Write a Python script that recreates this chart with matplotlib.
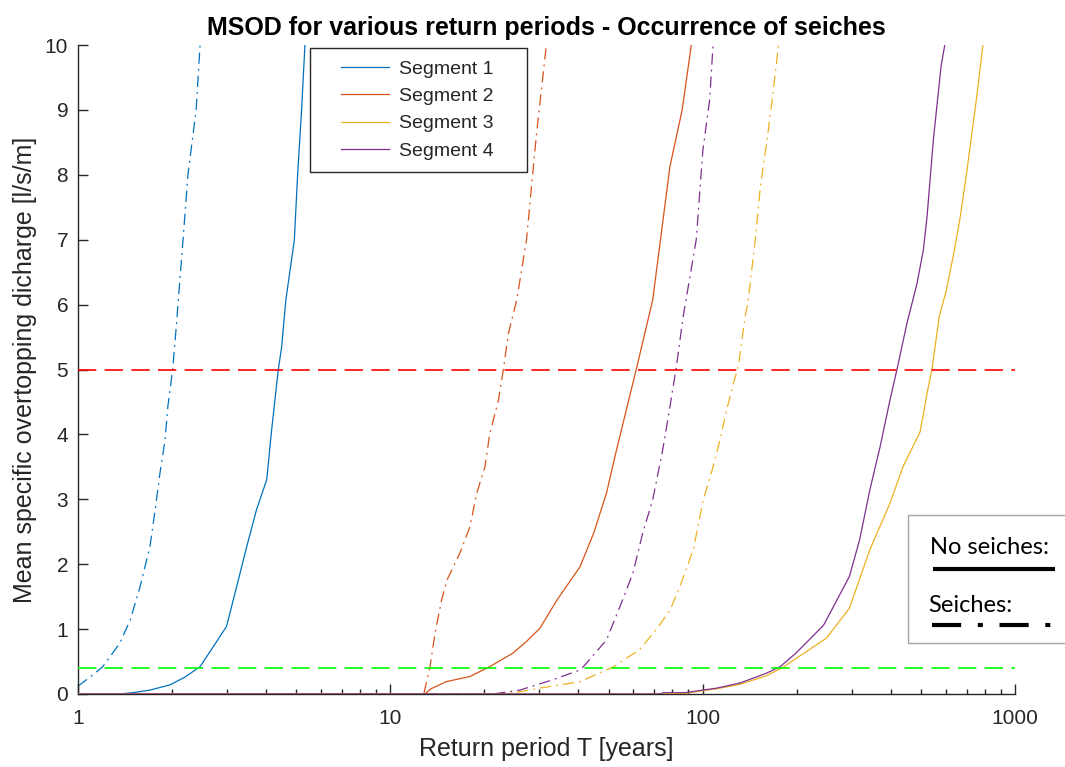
import matplotlib

matplotlib.use("Agg")
import matplotlib.pyplot as plt
from matplotlib.legend_handler import HandlerLine2D
from matplotlib.lines import Line2D
from matplotlib.patches import Rectangle
from matplotlib.ticker import FixedLocator, LogLocator, NullFormatter

plt.rcParams["font.family"] = ["Liberation Sans", "DejaVu Sans"]

# Return period T [years] vs mean specific overtopping discharge [l/s/m]
# --- without seiches ---
seg1_T = [1.0, 1.35, 1.5, 1.7, 1.97, 2.2, 2.46, 2.99, 3.22, 3.47, 3.73, 4.02, 4.17,
          4.38, 4.49, 4.63, 4.93, 5.05, 5.2, 5.33]
seg1_Q = [0.0, 0.0, 0.02, 0.06, 0.14, 0.26, 0.42, 1.04, 1.65, 2.27, 2.84, 3.3, 4.07,
          5.0, 5.35, 6.07, 7.0, 8.0, 9.0, 10.0]

seg2_T = [1.0, 12.9, 13.5, 15.1, 18.0, 20.8, 24.7, 27.3, 30.1, 34.2, 40.5, 44.8, 49.2,
          53.0, 57.0, 61.3, 69.2, 78.6, 86.0, 92.0]
seg2_Q = [0.0, 0.0, 0.08, 0.19, 0.27, 0.42, 0.63, 0.81, 1.01, 1.45, 1.96, 2.48, 3.09,
          3.76, 4.38, 5.0, 6.07, 8.13, 9.0, 10.0]

seg3_T = [1.0, 73.0, 88.0, 100.0, 111.0, 132.0, 160.0, 182.0, 249.0, 295.0, 343.0,
          398.0, 438.0, 497.0, 523.0, 543.0, 572.0, 603.0, 640.0, 668.0, 699.0,
          752.0, 790.0]
seg3_Q = [0.0, 0.0, 0.01, 0.05, 0.08, 0.15, 0.28, 0.42, 0.86, 1.32, 2.22, 2.94, 3.5,
          4.04, 4.63, 5.02, 5.81, 6.22, 6.84, 7.35, 8.0, 9.15, 10.0]

seg4_T = [1.0, 73.0, 75.0, 88.0, 100.0, 111.0, 132.0, 160.0, 177.0, 199.0, 244.0,
          295.0, 318.0, 343.0, 370.0, 398.0, 419.0, 451.0, 486.0, 509.0, 523.0,
          548.0, 580.0, 596.0]
seg4_Q = [0.0, 0.0, 0.02, 0.02, 0.06, 0.09, 0.17, 0.32, 0.42, 0.63, 1.06, 1.81, 2.37,
          3.14, 3.81, 4.53, 5.0, 5.71, 6.33, 6.84, 7.35, 8.54, 9.67, 10.0]

# --- with seiches ---
seg1s_T = [1.0, 1.1, 1.2, 1.36, 1.47, 1.58, 1.70, 1.76, 1.83, 1.90, 1.94, 2.01, 2.06,
           2.12, 2.17, 2.25, 2.39, 2.46]
seg1s_Q = [0.12, 0.27, 0.42, 0.78, 1.14, 1.65, 2.27, 2.78, 3.4, 3.91, 4.43, 5.0, 5.61,
           6.38, 7.0, 8.0, 9.0, 10.0]

seg2s_T = [1.0, 12.8, 13.4, 13.9, 14.6, 15.2, 16.7, 18.0, 18.9, 20.1, 20.8, 22.2, 23.0,
           23.9, 25.4, 27.3, 29.4, 31.6]
seg2s_Q = [0.0, 0.0, 0.42, 0.93, 1.45, 1.76, 2.17, 2.58, 3.09, 3.5, 4.0, 4.53, 4.99,
           5.56, 6.07, 7.0, 8.64, 10.0]

seg3s_T = [1.0, 21.9, 25.0, 30.1, 40.5, 51.9, 62.7, 71.0, 78.6, 84.5, 93.3, 100.5,
           108.0, 113.6, 119.4, 125.5, 130.0, 136.8, 140.0, 147.4, 153.1, 160.8,
           167.0, 175.0]
seg3s_Q = [0.0, 0.0, 0.02, 0.09, 0.19, 0.42, 0.68, 0.99, 1.29, 1.65, 2.22, 2.99, 3.5,
           3.91, 4.38, 4.79, 5.04, 5.81, 6.07, 7.0, 7.82, 8.54, 9.15, 10.0]

seg4s_T = [1.0, 21.3, 26.0, 33.2, 40.5, 41.5, 49.2, 54.3, 59.8, 64.3, 69.2, 74.5, 78.6,
           82.4, 86.6, 95.4, 100.2, 105.3, 108.0]
seg4s_Q = [0.0, 0.0, 0.06, 0.22, 0.37, 0.42, 0.83, 1.34, 1.86, 2.48, 2.99, 3.76, 4.43,
           5.04, 5.81, 7.0, 8.38, 9.15, 10.0]

segment_names = ["Segment 1", "Segment 2", "Segment 3", "Segment 4"]
segment_colors = ["#0072BD", "#D95319", "#EDB120", "#7E2F8E"]

limit_high = 5.0
limit_low = 0.4

x_ticks = [1, 10, 100, 1000]
x_tick_labels = ["1", "10", "100", "1000"]
y_ticks = list(range(0, 11))

axis_color = "#262626"

figure = plt.figure(figsize=(10.65, 7.67), dpi=100)
axis = figure.add_axes([0.0732, 0.0952, 0.8798, 0.8461])

seiches = [(seg1s_T, seg1s_Q), (seg2s_T, seg2s_Q), (seg3s_T, seg3s_Q), (seg4s_T, seg4s_Q)]
no_seiches = [(seg1_T, seg1_Q), (seg2_T, seg2_Q), (seg3_T, seg3_Q), (seg4_T, seg4_Q)]

for (t_values, q_values), color in zip(seiches, segment_colors):
    axis.plot(t_values, q_values, color=color, linewidth=0.9,
              dashes=(9, 4, 1.5, 4), zorder=2)

handles = []
for (t_values, q_values), color, name in zip(no_seiches, segment_colors, segment_names):
    line, = axis.plot(t_values, q_values, color=color, linewidth=0.9, label=name, zorder=3)
    handles.append(line)

axis.axhline(limit_high, color="#FF0000", linewidth=1.2, dashes=(11, 5), zorder=4)
axis.axhline(limit_low, color="#00FF00", linewidth=1.2, dashes=(11, 5), zorder=4)

axis.set_xscale("log")
axis.set_xlim(1, 1000)
axis.set_ylim(0, 10)
axis.xaxis.set_major_locator(FixedLocator(x_ticks))
axis.set_xticklabels(x_tick_labels)
axis.xaxis.set_minor_locator(LogLocator(base=10, subs=range(2, 10)))
axis.xaxis.set_minor_formatter(NullFormatter())
axis.set_yticks(y_ticks)

for side in ("top", "right"):
    axis.spines[side].set_visible(False)
for side in ("left", "bottom"):
    axis.spines[side].set_color(axis_color)
    axis.spines[side].set_linewidth(1.0)

axis.tick_params(axis="both", which="major", direction="in", length=7, width=1.0,
                 colors=axis_color, labelsize=15)
axis.tick_params(axis="x", which="major", pad=11)
axis.tick_params(axis="y", which="major", pad=7)
axis.tick_params(axis="x", which="minor", direction="in", length=3.5, width=1.0,
                 colors=axis_color)

axis.set_title("MSOD for various return periods - Occurrence of seiches",
               fontsize=18, fontweight="bold", color="#000000", pad=7)
axis.set_xlabel("Return period T [years]", fontsize=18, color=axis_color, labelpad=6)
axis.set_ylabel("Mean specific overtopping dicharge [l/s/m]", fontsize=18,
                color=axis_color, labelpad=6)

# Legend with a short line sample inset from the frame
legend = axis.legend(handles=handles, labels=[name + "    " for name in segment_names],
                     loc="upper left", bbox_to_anchor=(0.2476, 0.9954),
                     fontsize=14, handlelength=3.45, handletextpad=0.5,
                     labelspacing=0.5, borderpad=0.62, borderaxespad=0.0,
                     fancybox=False, framealpha=1, edgecolor=axis_color,
                     handler_map={Line2D: HandlerLine2D(xpad=1.0)})
legend.get_frame().set_linewidth(1.0)
legend.set_zorder(6)
for text in legend.get_texts():
    text.set_color(axis_color)

# Line-style key in the lower right corner
key_box = Rectangle((908 / 1065, 1 - 643 / 767), 0.2, 128 / 767, transform=figure.transFigure,
                    facecolor="white", edgecolor="#A6A6A6", linewidth=1.0, zorder=5)
figure.patches.append(key_box)
figure.text(930 / 1065, 1 - 548 / 767, "No seiches:", fontsize=17, family=["Lato", "DejaVu Sans"],
            color="black", va="center", ha="left", zorder=6)
figure.text(928 / 1065, 1 - 605 / 767, "Seiches:", fontsize=17, family=["Lato", "DejaVu Sans"],
            color="black", va="center", ha="left", zorder=6)
figure.lines.append(Line2D([933 / 1065, 1055 / 1065], [1 - 569 / 767, 1 - 569 / 767],
                           transform=figure.transFigure, color="black", linewidth=3.0,
                           solid_capstyle="butt", zorder=6))
figure.lines.append(Line2D([932 / 1065, 1055 / 1065], [1 - 625 / 767, 1 - 625 / 767],
                           transform=figure.transFigure, color="black", linewidth=3.0,
                           dashes=(7, 4, 1.2, 4), dash_capstyle="butt", zorder=6))

figure.savefig("out.png", dpi=100, facecolor="white")
plt.close(figure)
